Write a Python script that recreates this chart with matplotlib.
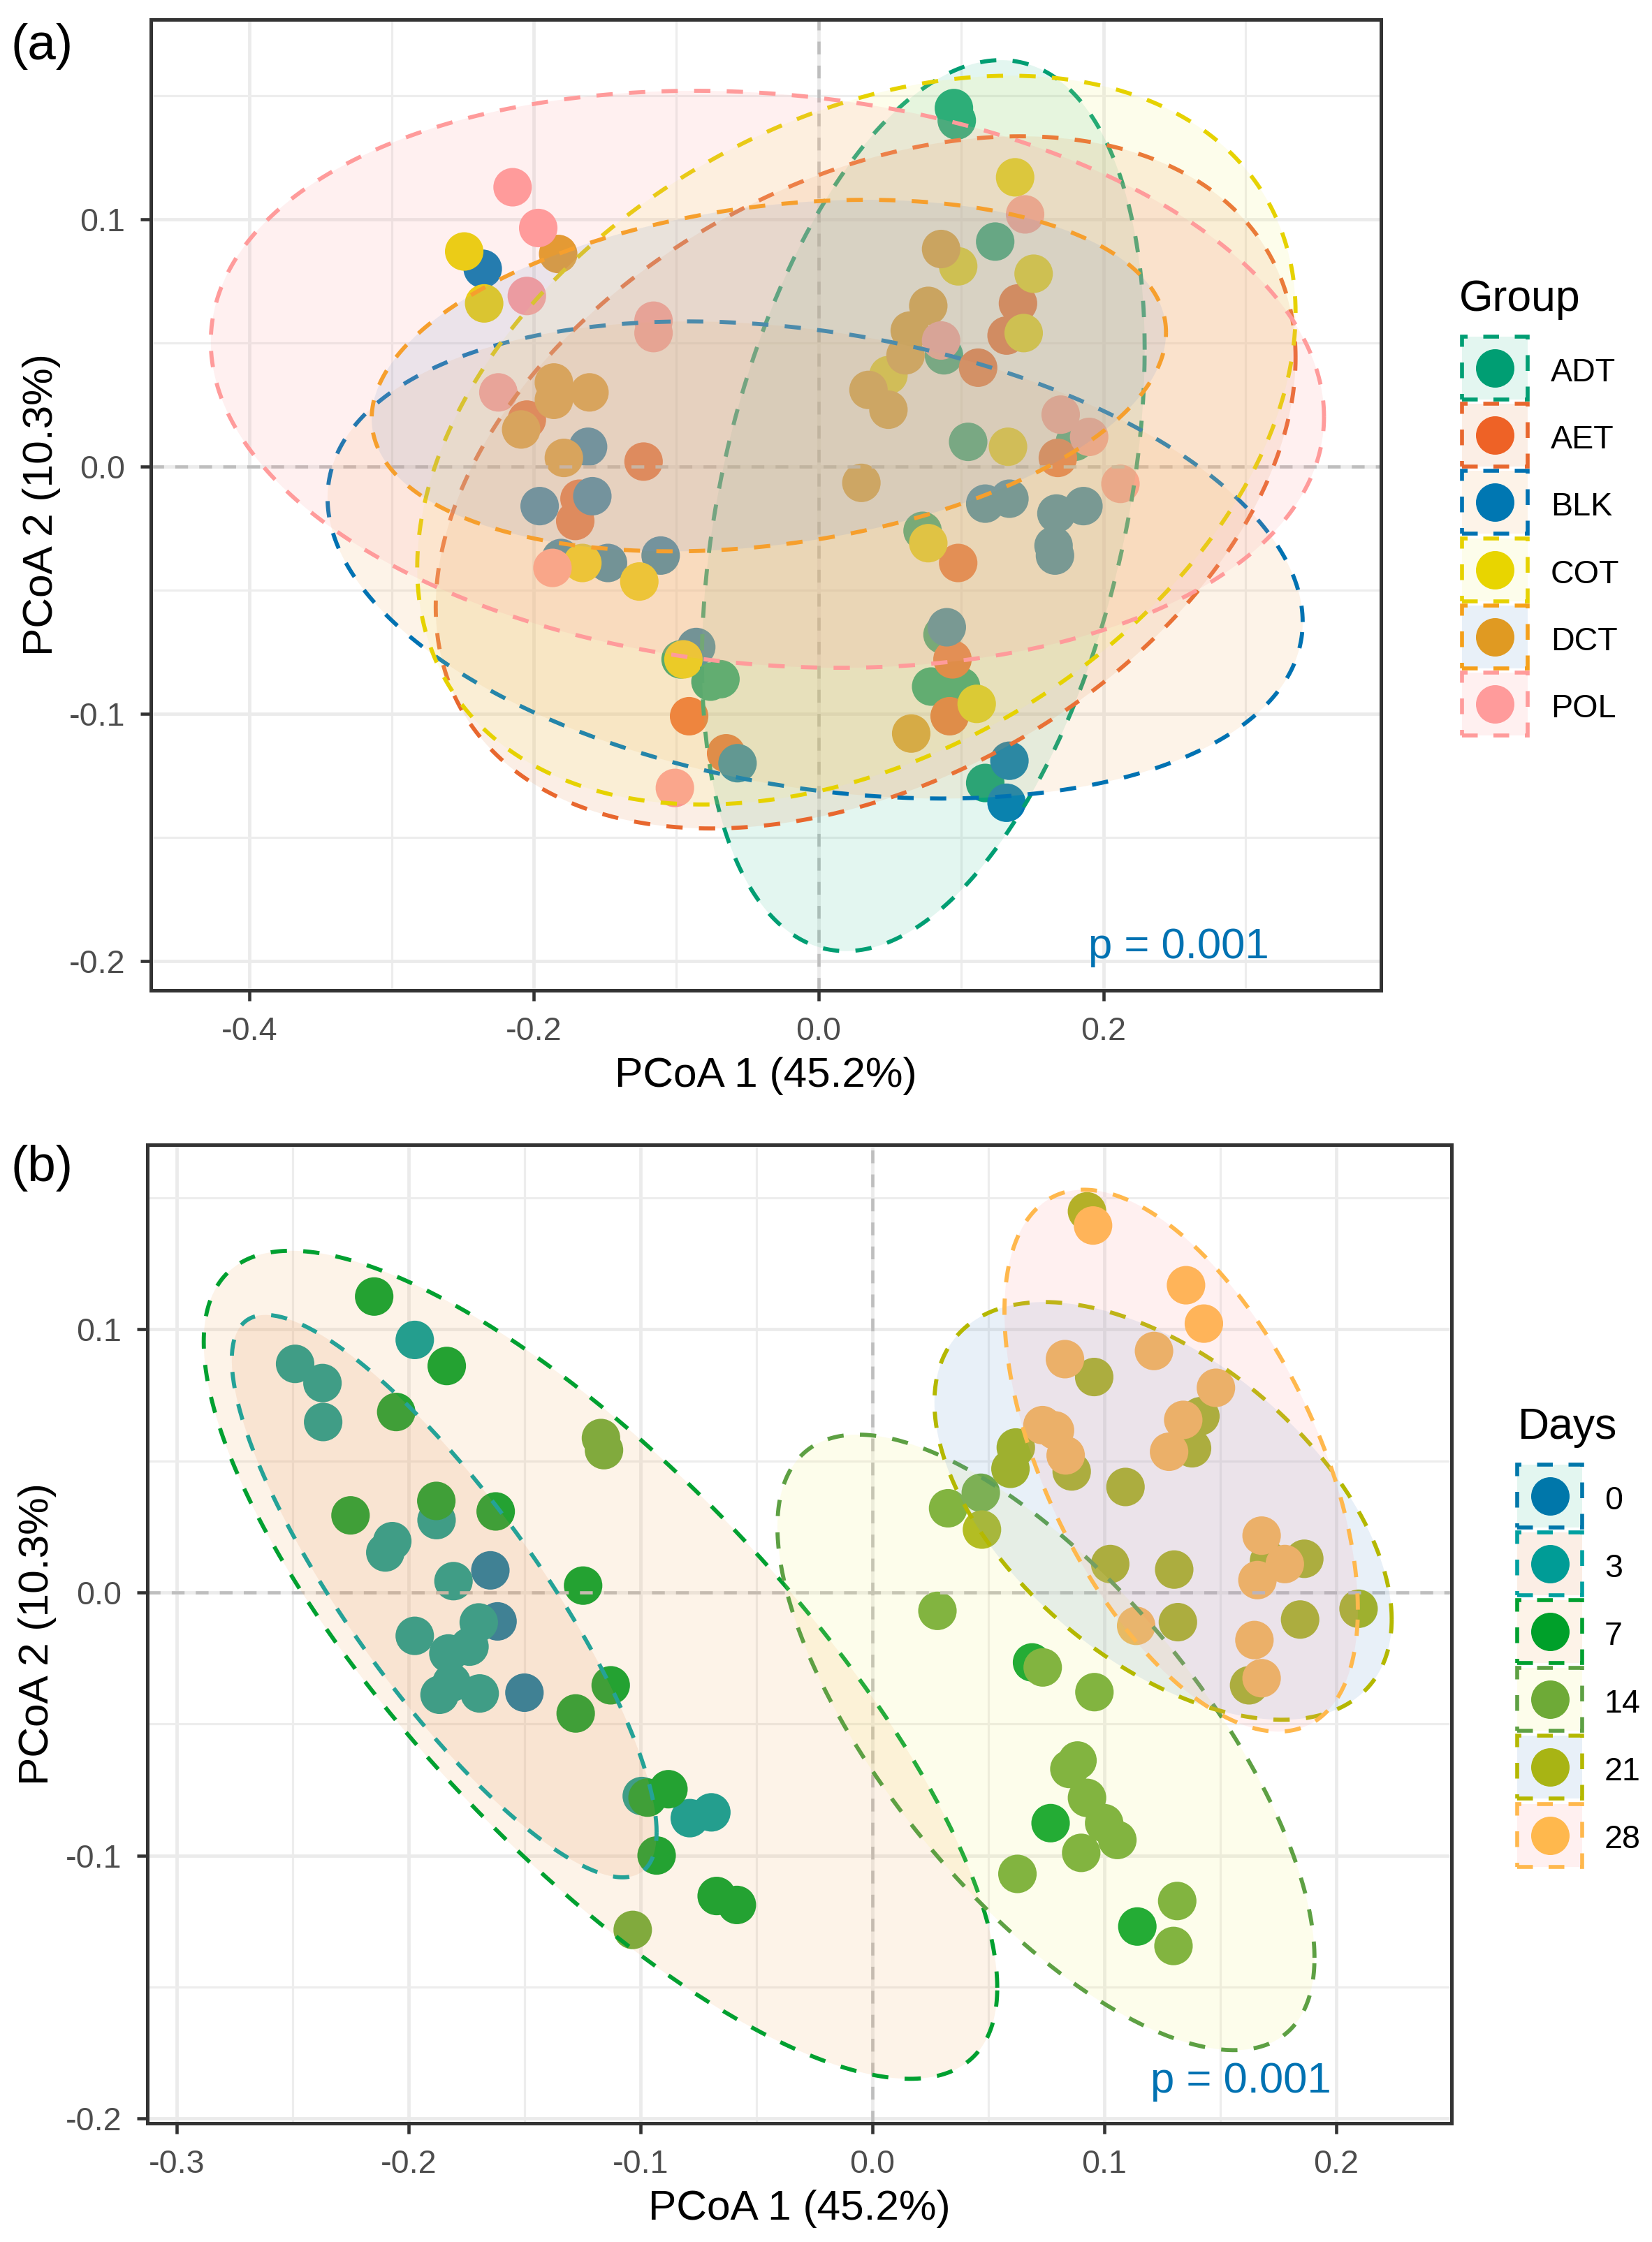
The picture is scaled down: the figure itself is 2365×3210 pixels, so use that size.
import numpy as np
import matplotlib
matplotlib.use("Agg")
import matplotlib.pyplot as plt
from matplotlib.patches import Rectangle
from matplotlib.lines import Line2D
from matplotlib.colors import to_rgba
from matplotlib.ticker import MultipleLocator, FuncFormatter

plt.rcParams['font.family'] = ['Liberation Sans', 'DejaVu Sans']

W, H, DPI = 2365, 3210, 300

# ---------------- panel (a): samples by Group ----------------
group_names = ["ADT", "AET", "BLK", "COT", "DCT", "POL"]
adt_x = [0.095, 0.097, 0.124, 0.088, 0.105, 0.180, 0.073, 0.087, 0.079, 0.100, 0.117, -0.069, -0.076, -0.097]
adt_y = [0.145, 0.140, 0.091, 0.045, 0.010, 0.010, -0.026, -0.068, -0.089, -0.089, -0.128, -0.086, -0.087, -0.078]
aet_x = [0.140, 0.132, 0.112, 0.168, -0.205, -0.123, -0.168, -0.171, 0.098, 0.094, 0.092, -0.091, -0.065]
aet_y = [0.066, 0.053, 0.040, 0.0035, 0.019, 0.002, -0.013, -0.022, -0.039, -0.078, -0.101, -0.101, -0.116]
blk_x = [-0.236, -0.162, -0.159, -0.196, -0.181, -0.148, -0.111, -0.086, -0.057, 0.117, 0.134, 0.167, 0.186, 0.165, 0.166, 0.090, 0.134, 0.132]
blk_y = [0.080, 0.008, -0.012, -0.016, -0.037, -0.039, -0.036, -0.073, -0.120, -0.015, -0.013, -0.019, -0.016, -0.032, -0.036, -0.065, -0.119, -0.136]
cot_x = [-0.249, -0.235, 0.138, 0.098, 0.151, 0.144, 0.049, 0.133, -0.166, -0.126, -0.095, 0.077, 0.111]
cot_y = [0.087, 0.066, 0.117, 0.081, 0.078, 0.054, 0.037, 0.008, -0.039, -0.0465, -0.078, -0.031, -0.096]
dct_x = [-0.183, -0.186, -0.186, -0.161, -0.209, -0.179, 0.086, 0.077, 0.064, 0.061, 0.035, 0.049, 0.030, 0.065]
dct_y = [0.086, 0.034, 0.027, 0.030, 0.015, 0.0035, 0.088, 0.065, 0.055, 0.045, 0.031, 0.023, -0.0066, -0.108]
pol_x = [-0.215, -0.197, -0.205, -0.116, -0.116, -0.225, -0.187, -0.101, 0.145, 0.086, 0.170, 0.190, 0.212]
pol_y = [0.113, 0.0965, 0.069, 0.059, 0.054, 0.030, -0.041, -0.130, 0.102, 0.051, 0.021, 0.012, -0.007]

# ellipses (a): centre, half-width, half-height, correlation
ell_a_cx = [0.0735, 0.033, -0.0025, 0.0265, -0.035, -0.036]
ell_a_cy = [-0.0158, -0.0064, -0.0378, 0.0107, 0.0368, 0.0353]
ell_a_hw = [0.1555, 0.302, 0.3425, 0.3085, 0.279, 0.391]
ell_a_hh = [0.1802, 0.140, 0.0965, 0.1474, 0.0711, 0.1167]
ell_a_rho = [0.35, 0.36, -0.26, 0.35, 0.245, -0.13]

# ---------------- panel (b): samples by Days ----------------
day_names = ["0", "3", "7", "14", "21", "28"]
day0_x = [-0.1648, -0.1617, -0.1501]
day0_y = [0.0084, -0.0110, -0.0381]
day3_x = [-0.2490, -0.2372, -0.2369, -0.1974, -0.1880, -0.2071, -0.2101, -0.1807, -0.1974, -0.1698, -0.1738, -0.1829, -0.1867, -0.1815, -0.1694, -0.0995, -0.0788, -0.0695]
day3_y = [0.0869, 0.0796, 0.0648, 0.0960, 0.0275, 0.0195, 0.0152, 0.0043, -0.0165, -0.0114, -0.0206, -0.0232, -0.0389, -0.0343, -0.0384, -0.0774, -0.0858, -0.0836]
day7_x = [-0.2149, -0.1836, -0.2054, -0.2251, -0.1881, -0.1625, -0.1248, -0.1129, -0.1280, -0.0970, -0.0880, -0.0931, -0.0672, -0.0585, 0.0688, 0.0768, 0.1142]
day7_y = [0.1125, 0.0861, 0.0686, 0.0293, 0.0348, 0.0308, 0.0026, -0.0353, -0.0460, -0.0780, -0.0748, -0.1000, -0.1154, -0.1188, -0.0266, -0.0877, -0.1270]
day14_x = [-0.1171, -0.1158, -0.1034, 0.0280, 0.0734, 0.0957, 0.0884, 0.0849, 0.0925, 0.0999, 0.1056, 0.0900, 0.0625, 0.1314, 0.1298, 0.0467, 0.0326]
day14_y = [0.0587, 0.0541, -0.1283, -0.0070, -0.0285, -0.0379, -0.0639, -0.0671, -0.0781, -0.0877, -0.0941, -0.0990, -0.1070, -0.1173, -0.1344, 0.0379, 0.0320]
day21_x = [0.0925, 0.0956, 0.1414, 0.1378, 0.0859, 0.0618, 0.0595, 0.0472, 0.1091, 0.1025, 0.1301, 0.1862, 0.1710, 0.2096, 0.1317, 0.1844, 0.1624]
day21_y = [0.1449, 0.0819, 0.0670, 0.0548, 0.0460, 0.0551, 0.0470, 0.0239, 0.0401, 0.0108, 0.0087, 0.0128, 0.0120, -0.0062, -0.0113, -0.0103, -0.0353]
day28_x = [0.0951, 0.1352, 0.1429, 0.0830, 0.1214, 0.1481, 0.1340, 0.1279, 0.0733, 0.0787, 0.0833, 0.1678, 0.1778, 0.1660, 0.1137, 0.1647, 0.1678]
day28_y = [0.1395, 0.1168, 0.1022, 0.0887, 0.0918, 0.0778, 0.0656, 0.0535, 0.0636, 0.0616, 0.0521, 0.0216, 0.0108, 0.0047, -0.0127, -0.0181, -0.0326]

# ellipses (b) for days 3, 7, 14, 21, 28 (day 0 has too few samples)
ell_b_idx = [1, 2, 3, 4, 5]
ell_b_cx = [-0.1847, -0.1173, 0.0748, 0.1253, 0.1331]
ell_b_cy = [-0.0014, -0.0275, -0.057, 0.031, 0.0501]
ell_b_hw = [0.0916, 0.1711, 0.1158, 0.0986, 0.0762]
ell_b_hh = [0.1069, 0.1574, 0.117, 0.0794, 0.103]
ell_b_rho = [-0.84, -0.78, -0.70, -0.52, -0.55]

# ---------------- colours ----------------
a_point = ['#009E73', '#EE6226', '#0077B2', '#E8D500', '#E09A22', '#FF9B9B']
a_line = ['#009E73', '#E8672E', '#0072B2', '#E6D200', '#F5A01A', '#FF9B9B']
b_point = ['#0077AA', '#009C96', '#00A02A', '#6EAA37', '#A8B414', '#FFB84D']
b_line = ['#0077AA', '#00A0A0', '#00A030', '#5DA043', '#B4B800', '#FFB84D']
fill_cols = ['#44C39B', '#E98F55', '#F2AF66', '#F8F27A', '#669BD0', '#FF9F9F']
FILL_ALPHA = 0.15

a_xs = [adt_x, aet_x, blk_x, cot_x, dct_x, pol_x]
a_ys = [adt_y, aet_y, blk_y, cot_y, dct_y, pol_y]
b_xs = [day0_x, day3_x, day7_x, day14_x, day21_x, day28_x]
b_ys = [day0_y, day3_y, day7_y, day14_y, day21_y, day28_y]

ELL_LW = 1.4
ELL_DASH = (0, (4.0, 4.0))
REF_DASH = (0, (4.0, 3.5))
PT_SIZE = 175


def fx(px):
    return px / W


def fy(py):
    return 1 - py / H


def ellipse_xy(cx, cy, hw, hh, rho, n=361):
    S = np.array([[hw * hw, rho * hw * hh], [rho * hw * hh, hh * hh]])
    L = np.linalg.cholesky(S)
    t = np.linspace(0, 2 * np.pi, n)
    pts = L @ np.vstack([np.cos(t), np.sin(t)])
    return cx + pts[0], cy + pts[1]


def fmt(v, pos):
    if abs(v) < 1e-9:
        v = 0.0
    return f"{v:.1f}"


def style_axes(ax, xlim, ylim, xmaj, xmin_, ymaj, ymin_):
    ax.set_xlim(xlim)
    ax.set_ylim(ylim)
    ax.xaxis.set_major_locator(MultipleLocator(xmaj))
    ax.xaxis.set_minor_locator(MultipleLocator(xmin_))
    ax.yaxis.set_major_locator(MultipleLocator(ymaj))
    ax.yaxis.set_minor_locator(MultipleLocator(ymin_))
    ax.xaxis.set_major_formatter(FuncFormatter(fmt))
    ax.yaxis.set_major_formatter(FuncFormatter(fmt))
    ax.grid(which='major', color='#EBEBEB', lw=1.15)
    ax.grid(which='minor', color='#EDEDED', lw=0.75)
    ax.set_axisbelow(True)
    ax.tick_params(which='major', length=3.5, width=1.1, color='#333333',
                   pad=5.3, labelsize=11.2, labelcolor='#4D4D4D')
    ax.tick_params(which='minor', length=0)
    for s in ax.spines.values():
        s.set_color('#333333')
        s.set_linewidth(1.2)
        s.set_zorder(10)
    ax.axhline(0, color='#BEBEBE', lw=1.1, ls=REF_DASH, zorder=2.5)
    ax.axvline(0, color='#BEBEBE', lw=1.1, ls=REF_DASH, zorder=2.5)


def draw_legend(title, labels, pcols, lcols, title_x, title_base, box_x, box_top0,
                box_w, box_h, step, label_x):
    fig.text(fx(title_x), fy(title_base), title, fontsize=15, va='baseline', ha='left')
    for i, lab in enumerate(labels):
        top = box_top0 + i * step
        rect = Rectangle((fx(box_x), fy(top + box_h)), box_w / W, box_h / H,
                         transform=fig.transFigure,
                         facecolor=to_rgba(fill_cols[i], FILL_ALPHA),
                         edgecolor=lcols[i], lw=1.35, linestyle=(0, (4.0, 4.0)))
        fig.add_artist(rect)
        cx = box_x + box_w / 2
        cy = top + box_h / 2
        dot = Line2D([fx(cx)], [fy(cy)], transform=fig.transFigure, marker='o',
                     markersize=13.2, color=pcols[i], markeredgewidth=0, linestyle='none')
        fig.add_artist(dot)
        fig.text(fx(label_x), fy(cy + 19), lab, fontsize=11.2, va='baseline', ha='left')


fig = plt.figure(figsize=(W / DPI, H / DPI), dpi=DPI)

# ---------- panel (a) ----------
axa = fig.add_axes([fx(216), fy(1418), (1977 - 216) / W, (1418 - 27.7) / H])
style_axes(axa, (-0.4691, 0.395), (-0.2119, 0.1809), 0.2, 0.1, 0.1, 0.05)
for i in range(6):
    axa.scatter(a_xs[i], a_ys[i], s=PT_SIZE, color=a_point[i], edgecolors='none',
                linewidths=0, zorder=2)
for i in range(6):
    ex, ey = ellipse_xy(ell_a_cx[i], ell_a_cy[i], ell_a_hw[i], ell_a_hh[i], ell_a_rho[i])
    axa.fill(ex, ey, facecolor=fill_cols[i], alpha=FILL_ALPHA, edgecolor='none', zorder=3 + i * 0.1)
    axa.plot(ex, ey, color=a_line[i], lw=ELL_LW, ls=ELL_DASH, zorder=3.05 + i * 0.1)
axa.text(0.3165, -0.1989, 'p = 0.001', color='#0072B2', fontsize=14.8, ha='right', va='baseline', zorder=12)

# ---------- panel (b) ----------
axb = fig.add_axes([fx(211), fy(3040), (2078 - 211) / W, (3040 - 1639) / H])
style_axes(axb, (-0.3127, 0.2497), (-0.2018, 0.1702), 0.1, 0.05, 0.1, 0.05)
for i in range(6):
    axb.scatter(b_xs[i], b_ys[i], s=PT_SIZE, color=b_point[i], edgecolors='none',
                linewidths=0, zorder=2)
for k, i in enumerate(ell_b_idx):
    ex, ey = ellipse_xy(ell_b_cx[k], ell_b_cy[k], ell_b_hw[k], ell_b_hh[k], ell_b_rho[k])
    axb.fill(ex, ey, facecolor=fill_cols[i], alpha=FILL_ALPHA, edgecolor='none', zorder=3 + i * 0.1)
    axb.plot(ex, ey, color=b_line[i], lw=ELL_LW, ls=ELL_DASH, zorder=3.05 + i * 0.1)
axb.text(0.1979, -0.190, 'p = 0.001', color='#0072B2', fontsize=14.8, ha='right', va='baseline', zorder=12)

# ---------- titles / labels ----------
fig.text(fx(15), fy(67), '(a)', fontsize=17.5, ha='left', va='center')
fig.text(fx(15), fy(1672), '(b)', fontsize=17.5, ha='left', va='center')
fig.text(fx((216 + 1977) / 2), fy(1541), 'PCoA 1 (45.2%)', fontsize=14.5, ha='center', va='center')
fig.text(fx((211 + 2078) / 2), fy(3163), 'PCoA 1 (45.2%)', fontsize=14.5, ha='center', va='center')
fig.text(fx(60), fy((27.7 + 1418) / 2), 'PCoA 2 (10.3%)', fontsize=14.5, ha='center', va='center', rotation=90)
fig.text(fx(54), fy((1639 + 3040) / 2), 'PCoA 2 (10.3%)', fontsize=14.5, ha='center', va='center', rotation=90)

# ---------- legends ----------
draw_legend('Group', group_names, a_point, a_line, 2089, 445, 2093, 482, 94, 90, 96.2, 2220)
draw_legend('Days', day_names, b_point, b_line, 2173, 2060, 2172, 2097, 93, 90, 97.1, 2297)

fig.savefig('out.png', dpi=DPI)
